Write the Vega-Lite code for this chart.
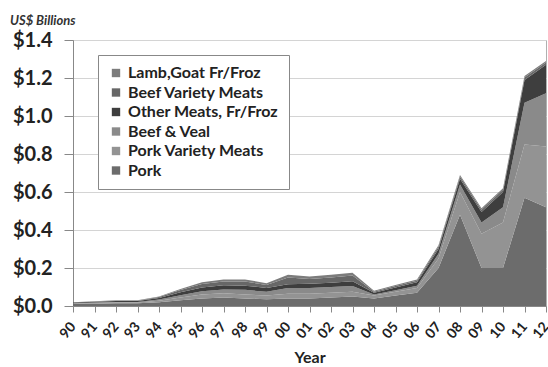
{
  "$schema": "https://vega.github.io/schema/vega-lite/v6.json",
  "autosize": {"type": "none"},
  "width": 473,
  "height": 266,
  "padding": {"left": 73, "top": 40, "right": 2, "bottom": 61},
  "background": "white",
  "title": {
    "text": "US$ Billions",
    "anchor": "start",
    "frame": "group",
    "orient": "top",
    "offset": 2,
    "dx": -63,
    "font": "Lato",
    "fontSize": 13,
    "fontWeight": "bold",
    "fontStyle": "italic",
    "color": "#333333"
  },
  "data": {
    "values": [
      {"Year": "90", "Pork": 0.010, "Pork Variety Meats": 0.003, "Beef & Veal": 0.002, "Other Meats, Fr/Froz": 0.003, "Beef Variety Meats": 0.001, "Lamb,Goat Fr/Froz": 0.001},
      {"Year": "91", "Pork": 0.012, "Pork Variety Meats": 0.004, "Beef & Veal": 0.002, "Other Meats, Fr/Froz": 0.004, "Beef Variety Meats": 0.002, "Lamb,Goat Fr/Froz": 0.001},
      {"Year": "92", "Pork": 0.014, "Pork Variety Meats": 0.004, "Beef & Veal": 0.003, "Other Meats, Fr/Froz": 0.005, "Beef Variety Meats": 0.002, "Lamb,Goat Fr/Froz": 0.002},
      {"Year": "93", "Pork": 0.014, "Pork Variety Meats": 0.004, "Beef & Veal": 0.003, "Other Meats, Fr/Froz": 0.005, "Beef Variety Meats": 0.002, "Lamb,Goat Fr/Froz": 0.002},
      {"Year": "94", "Pork": 0.020, "Pork Variety Meats": 0.008, "Beef & Veal": 0.006, "Other Meats, Fr/Froz": 0.008, "Beef Variety Meats": 0.005, "Lamb,Goat Fr/Froz": 0.003},
      {"Year": "95", "Pork": 0.030, "Pork Variety Meats": 0.015, "Beef & Veal": 0.012, "Other Meats, Fr/Froz": 0.015, "Beef Variety Meats": 0.012, "Lamb,Goat Fr/Froz": 0.006},
      {"Year": "96", "Pork": 0.040, "Pork Variety Meats": 0.020, "Beef & Veal": 0.018, "Other Meats, Fr/Froz": 0.020, "Beef Variety Meats": 0.018, "Lamb,Goat Fr/Froz": 0.009},
      {"Year": "97", "Pork": 0.045, "Pork Variety Meats": 0.022, "Beef & Veal": 0.020, "Other Meats, Fr/Froz": 0.022, "Beef Variety Meats": 0.020, "Lamb,Goat Fr/Froz": 0.011},
      {"Year": "98", "Pork": 0.040, "Pork Variety Meats": 0.020, "Beef & Veal": 0.025, "Other Meats, Fr/Froz": 0.022, "Beef Variety Meats": 0.022, "Lamb,Goat Fr/Froz": 0.011},
      {"Year": "99", "Pork": 0.035, "Pork Variety Meats": 0.020, "Beef & Veal": 0.020, "Other Meats, Fr/Froz": 0.020, "Beef Variety Meats": 0.015, "Lamb,Goat Fr/Froz": 0.010},
      {"Year": "00", "Pork": 0.040, "Pork Variety Meats": 0.025, "Beef & Veal": 0.030, "Other Meats, Fr/Froz": 0.020, "Beef Variety Meats": 0.035, "Lamb,Goat Fr/Froz": 0.015},
      {"Year": "01", "Pork": 0.040, "Pork Variety Meats": 0.025, "Beef & Veal": 0.030, "Other Meats, Fr/Froz": 0.022, "Beef Variety Meats": 0.025, "Lamb,Goat Fr/Froz": 0.013},
      {"Year": "02", "Pork": 0.045, "Pork Variety Meats": 0.025, "Beef & Veal": 0.030, "Other Meats, Fr/Froz": 0.022, "Beef Variety Meats": 0.028, "Lamb,Goat Fr/Froz": 0.015},
      {"Year": "03", "Pork": 0.050, "Pork Variety Meats": 0.025, "Beef & Veal": 0.030, "Other Meats, Fr/Froz": 0.025, "Beef Variety Meats": 0.030, "Lamb,Goat Fr/Froz": 0.015},
      {"Year": "04", "Pork": 0.040, "Pork Variety Meats": 0.015, "Beef & Veal": 0.005, "Other Meats, Fr/Froz": 0.010, "Beef Variety Meats": 0.005, "Lamb,Goat Fr/Froz": 0.005},
      {"Year": "05", "Pork": 0.055, "Pork Variety Meats": 0.020, "Beef & Veal": 0.008, "Other Meats, Fr/Froz": 0.015, "Beef Variety Meats": 0.007, "Lamb,Goat Fr/Froz": 0.005},
      {"Year": "06", "Pork": 0.070, "Pork Variety Meats": 0.025, "Beef & Veal": 0.012, "Other Meats, Fr/Froz": 0.018, "Beef Variety Meats": 0.008, "Lamb,Goat Fr/Froz": 0.007},
      {"Year": "07", "Pork": 0.200, "Pork Variety Meats": 0.050, "Beef & Veal": 0.025, "Other Meats, Fr/Froz": 0.025, "Beef Variety Meats": 0.012, "Lamb,Goat Fr/Froz": 0.008},
      {"Year": "08", "Pork": 0.480, "Pork Variety Meats": 0.120, "Beef & Veal": 0.040, "Other Meats, Fr/Froz": 0.030, "Beef Variety Meats": 0.012, "Lamb,Goat Fr/Froz": 0.008},
      {"Year": "09", "Pork": 0.200, "Pork Variety Meats": 0.180, "Beef & Veal": 0.060, "Other Meats, Fr/Froz": 0.055, "Beef Variety Meats": 0.012, "Lamb,Goat Fr/Froz": 0.008},
      {"Year": "10", "Pork": 0.200, "Pork Variety Meats": 0.240, "Beef & Veal": 0.080, "Other Meats, Fr/Froz": 0.080, "Beef Variety Meats": 0.012, "Lamb,Goat Fr/Froz": 0.008},
      {"Year": "11", "Pork": 0.570, "Pork Variety Meats": 0.280, "Beef & Veal": 0.220, "Other Meats, Fr/Froz": 0.120, "Beef Variety Meats": 0.012, "Lamb,Goat Fr/Froz": 0.008},
      {"Year": "12", "Pork": 0.520, "Pork Variety Meats": 0.320, "Beef & Veal": 0.280, "Other Meats, Fr/Froz": 0.150, "Beef Variety Meats": 0.012, "Lamb,Goat Fr/Froz": 0.008}
    ]
  },
  "transform": [
    {"fold": ["Pork", "Pork Variety Meats", "Beef & Veal", "Other Meats, Fr/Froz", "Beef Variety Meats", "Lamb,Goat Fr/Froz"], "as": ["Series", "Value"]},
    {"calculate": "indexof(['Pork','Pork Variety Meats','Beef & Veal','Other Meats, Fr/Froz','Beef Variety Meats','Lamb,Goat Fr/Froz'], datum.Series)", "as": "StackRank"}
  ],
  "mark": {"type": "area", "interpolate": "linear"},
  "encoding": {
    "x": {
      "field": "Year",
      "type": "ordinal",
      "sort": null,
      "scale": {"type": "point", "padding": 0},
      "axis": {
        "title": "Year",
        "titleFont": "Lato",
        "titleFontSize": 16,
        "titleFontWeight": "bold",
        "titleColor": "#222222",
        "titlePadding": 9,
        "labelFont": "Lato",
        "labelFontSize": 14,
        "labelFontWeight": "bold",
        "labelColor": "#222222",
        "labelAngle": -50,
        "labelAlign": "right",
        "labelBaseline": "middle",
        "labelPadding": 12,
        "labelOverlap": false,
        "domainColor": "#888888",
        "tickColor": "#888888",
        "tickSize": 6,
        "grid": false
      }
    },
    "y": {
      "field": "Value",
      "type": "quantitative",
      "stack": "zero",
      "scale": {"domain": [0, 1.4]},
      "axis": {
        "title": null,
        "values": [0, 0.2, 0.4, 0.6, 0.8, 1.0, 1.2, 1.4],
        "format": "$.1f",
        "labelFont": "Lato",
        "labelFontSize": 20,
        "labelFontWeight": "bold",
        "labelColor": "#222222",
        "labelPadding": 12,
        "domainColor": "#888888",
        "tickColor": "#888888",
        "tickSize": 9,
        "gridColor": "#d4d4d4",
        "gridWidth": 1
      }
    },
    "color": {
      "field": "Series",
      "type": "nominal",
      "scale": {
        "domain": ["Lamb,Goat Fr/Froz", "Beef Variety Meats", "Other Meats, Fr/Froz", "Beef & Veal", "Pork Variety Meats", "Pork"],
        "range": ["#7c7c7c", "#676767", "#3e3e3e", "#8a8a8a", "#939393", "#6c6c6c"]
      },
      "legend": {
        "title": null,
        "orient": "none",
        "legendX": 25,
        "legendY": 15,
        "direction": "vertical",
        "fillColor": "white",
        "strokeColor": "#888888",
        "padding": 10,
        "symbolType": "square",
        "symbolSize": 70,
        "symbolStrokeWidth": 0,
        "labelFont": "Lato",
        "labelFontSize": 16,
        "labelFontWeight": "bold",
        "labelColor": "#222222",
        "labelOffset": 4,
        "rowPadding": 3.5,
        "labelLimit": 260
      }
    },
    "order": {"field": "StackRank", "type": "quantitative", "sort": "ascending"}
  },
  "config": {
    "view": {"stroke": "#b0b0b0", "strokeWidth": 1}
  }
}
